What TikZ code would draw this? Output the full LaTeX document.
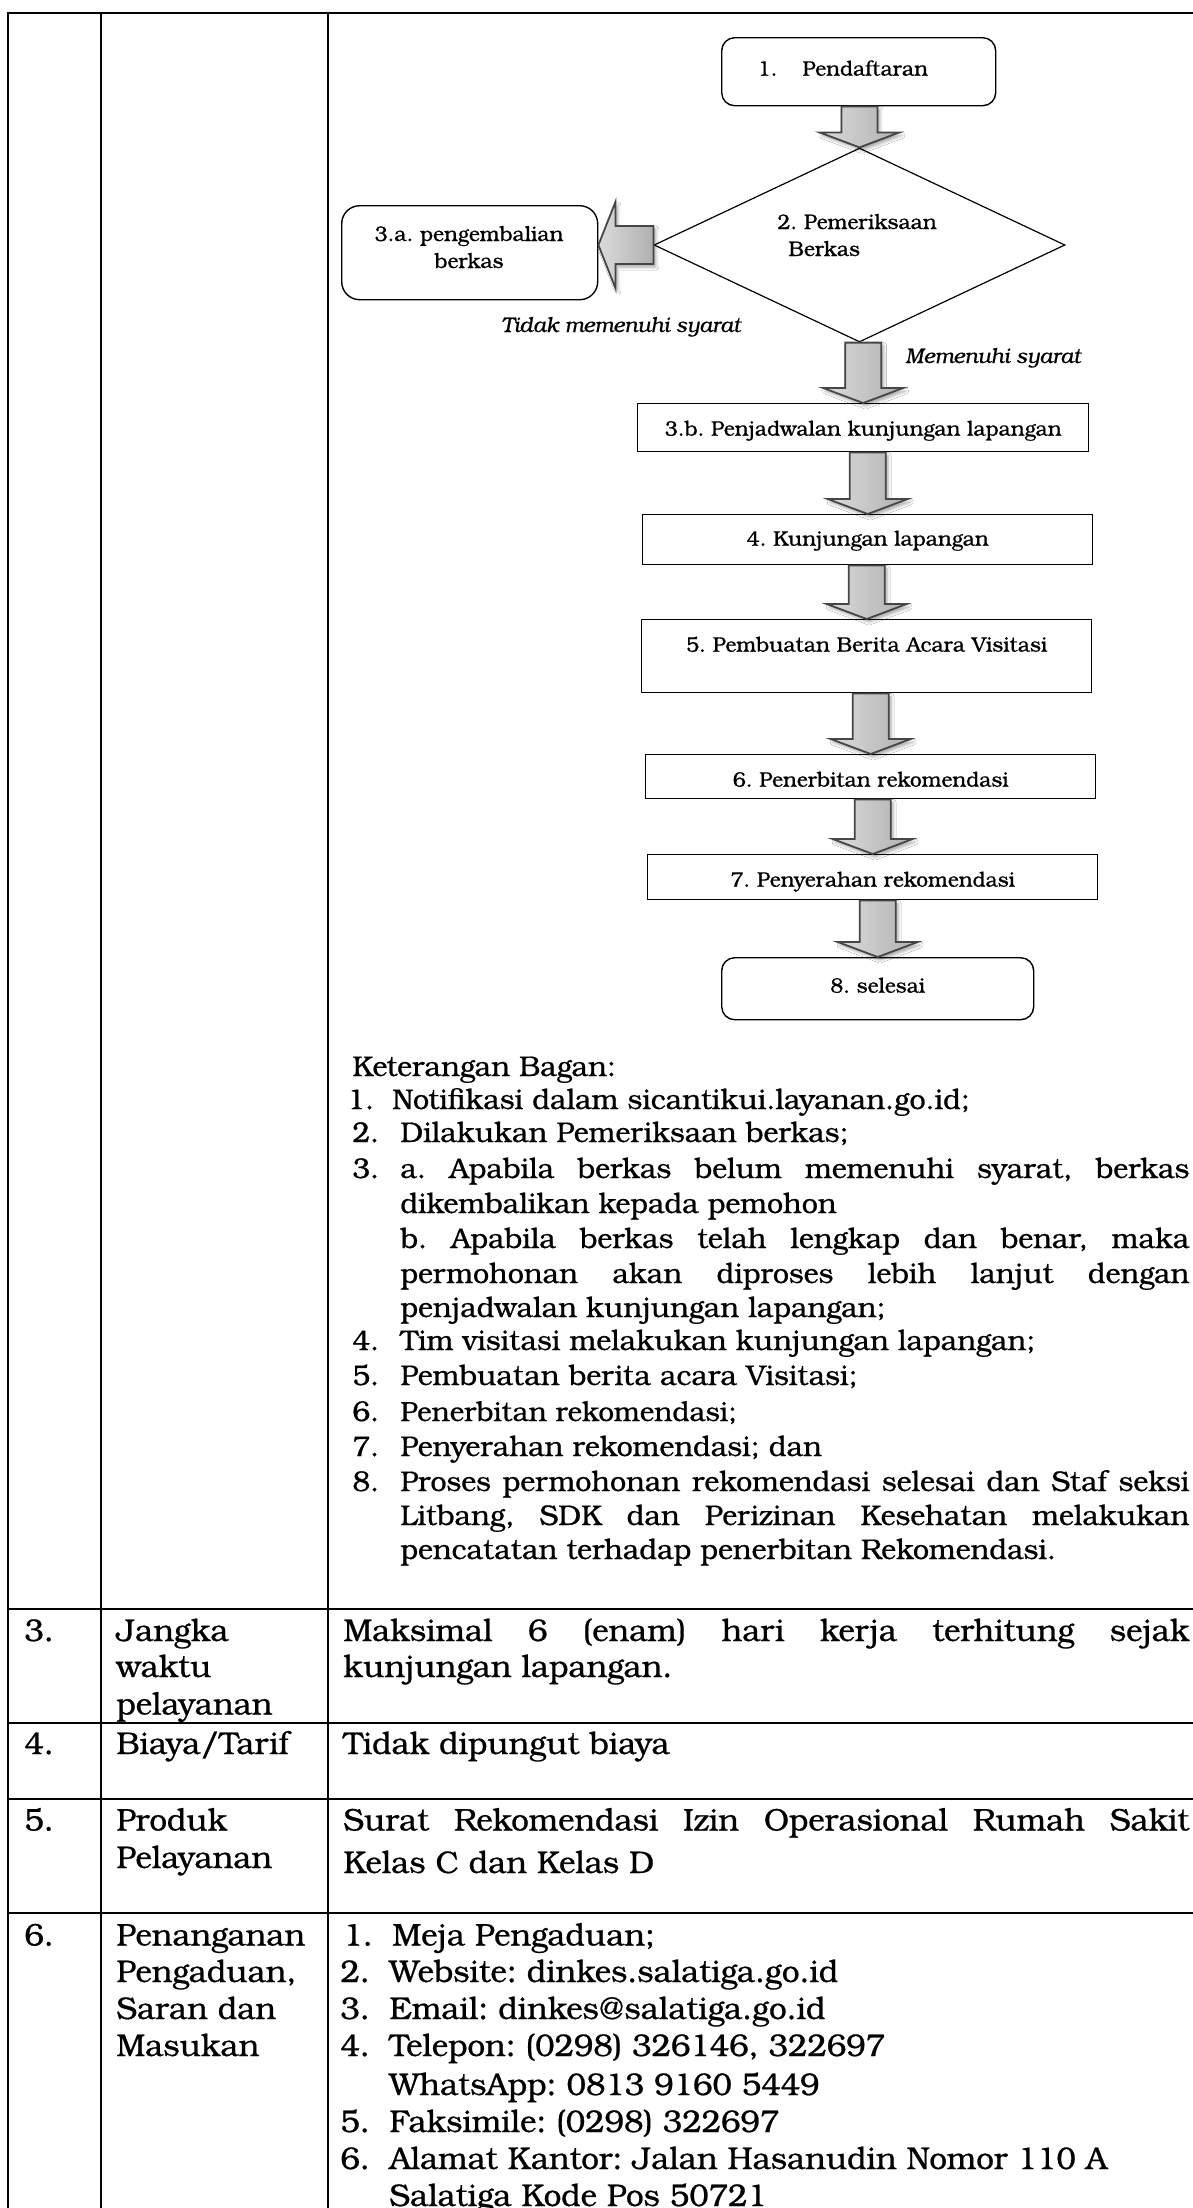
\documentclass[tikz,border=0pt]{standalone}
\usepackage{fontspec}
\setmainfont{TeX Gyre Bonum}[FakeBold=0.7]
\usetikzlibrary{calc,shapes.geometric,shadows.blur}
\newcommand\fontFlow{\fontsize{10.5pt}{13pt}\selectfont}
\newcommand\fontKet{\fontsize{14.25pt}{17pt}\selectfont}
\newcommand\fontTab{\fontsize{15.65pt}{18.5pt}\selectfont}
\newcommand\flowarrow[2]{%
  \path[blockarrow] let \p1=(#1.south), \p2=(#2.north) in
    (\x2-9pt,\y1) -- (\x2-9pt,\y2+7.5pt) -- (\x2-20pt,\y2+7.5pt) -- (\x2,\y2)
    -- (\x2+20pt,\y2+7.5pt) -- (\x2+9pt,\y2+7.5pt) -- (\x2+9pt,\y1) -- cycle;}
\begin{document}
\frenchspacing
\begin{tikzpicture}[x=0.5pt,y=-0.5pt,
  tbl/.style={line width=0.8pt,black},
  rowline/.style={line width=1pt,black},
  fbox/.style={draw,line width=0.7pt,fill=white,inner xsep=0pt,inner ysep=0pt,font=\fontFlow,anchor=north west},
  rbox/.style={fbox,rounded corners=6.5pt},
  ft/.style={font=\fontFlow,inner sep=0pt},
  fti/.style={font=\fontFlow\itshape,inner sep=0pt,anchor=base west},
  kt/.style={font=\fontKet,inner sep=0pt,anchor=base west},
  tt/.style={font=\fontTab,inner sep=0pt,anchor=base west},
  blockarrow/.style={left color=gray!28,right color=gray!62,draw=gray!55!black,line width=0.9pt,line join=miter,
    blur shadow={shadow xshift=1.2pt,shadow yshift=-1.5pt,shadow blur radius=1.5pt,shadow opacity=35}}
]
\useasboundingbox (0,0) rectangle (1193,2208);
\fill[white] (0,0) rectangle (1193,2208);
% table grid
\draw[tbl] (1193,13) -- (8,13) -- (8,2215);
\draw[tbl] (101,13) -- (101,2215);
\draw[tbl] (328,13) -- (328,2215);
\foreach \yy in {1609,1723,1799,1913} \draw[rowline] (8,\yy) -- (1193,\yy);

% flowchart
\node[rbox,minimum width=137pt,text height=19pt,text depth=15pt] (b1) at (721,37)
  {\makebox[137pt][l]{\hspace{18pt}1.\hspace{12.5pt}Pendaftaran}};
\node[draw,diamond,line width=0.6pt,fill=white,inner sep=0pt,minimum width=205.5pt,minimum height=97pt] (d2) at (859.5,245) {};
\node[ft,anchor=base west] (d2a) at (777,229) {2. Pemeriksaan};
\node[ft,anchor=base west] (d2b) at (788,256) {Berkas};
\node[rbox,rounded corners=9pt,minimum width=128pt,minimum height=47pt] (b3a) at (341,205) {};
\node[ft,anchor=base] (t3a1) at (469,241) {3.a. pengembalian};
\node[ft,anchor=base] (t3a2) at (469,268) {berkas};
\node[fti] (ltidak) at (501,332) {Tidak memenuhi syarat};
\node[fti] (lmemen) at (905,363) {Memenuhi syarat};
\node[fbox,minimum width=225.5pt,text height=16pt,text depth=8pt] (b3b) at (637,403) {3.b. Penjadwalan kunjungan lapangan};
\node[fbox,minimum width=225pt,text height=15.5pt,text depth=9.5pt] (b4) at (642,514) {4. Kunjungan lapangan};
\node[fbox,minimum width=225pt,text height=16pt,text depth=20.5pt] (b5) at (641,619) {5. Pembuatan Berita Acara Visitasi};
\node[fbox,minimum width=225pt,text height=16pt,text depth=6pt] (b6) at (645,754) {6. Penerbitan rekomendasi};
\node[fbox,minimum width=225pt,text height=16pt,text depth=6.5pt] (b7) at (647,854) {7. Penyerahan rekomendasi};
\node[rbox,minimum width=156pt,text height=17.5pt,text depth=13.5pt] (b8) at (721,957) {8. selesai};

\flowarrow{b1}{d2}
\flowarrow{d2}{b3b}
\flowarrow{b3b}{b4}
\flowarrow{b4}{b5}
\flowarrow{b5}{b6}
\flowarrow{b6}{b7}
\flowarrow{b7}{b8}
\path[blockarrow] let \p1=(d2.west), \p2=(b3a.east) in
  (\x1,\y1+9.5pt) -- (\x2+8.5pt,\y1+9.5pt) -- (\x2+8.5pt,\y1+21.5pt) -- (\x2,\y1)
  -- (\x2+8.5pt,\y1-21.5pt) -- (\x2+8.5pt,\y1-9.5pt) -- (\x1,\y1-9.5pt) -- cycle;

% Keterangan
\node[kt] (k0) at (352,1076) {Keterangan Bagan:};
\node[kt] (k1n) at (347,1109) {1.};
\node[kt] (k1t) at (392,1109) {Notifikasi dalam sicantikui.layanan.go.id;};
\node[kt] (k2n) at (352,1142) {2.};
\node[kt] (k2t) at (400,1142) {Dilakukan Pemeriksaan berkas;};
\node[kt] (k3n) at (352,1178) {3.};
\node[kt] (k3a) at (400,1178) {\makebox[394.5pt][s]{a. Apabila berkas belum memenuhi syarat, berkas}};
\node[kt] (k3b) at (400,1213) {dikembalikan kepada pemohon};
\node[kt] (k3c) at (400,1248) {\makebox[394.5pt][s]{b. Apabila berkas telah lengkap dan benar, maka}};
\node[kt] (k3d) at (400,1283) {\makebox[394.5pt][s]{permohonan akan diproses lebih lanjut dengan}};
\node[kt] (k3e) at (400,1317) {penjadwalan kunjungan lapangan;};
\node[kt] (k4n) at (352,1350) {4.};
\node[kt] (k4t) at (400,1350) {Tim visitasi melakukan kunjungan lapangan;};
\node[kt] (k5n) at (352,1385) {5.};
\node[kt] (k5t) at (400,1385) {Pembuatan berita acara Visitasi;};
\node[kt] (k6n) at (352,1421) {6.};
\node[kt,font=\fontsize{13.8pt}{16pt}\selectfont] (k6t) at (400,1421) {Penerbitan rekomendasi;};
\node[kt] (k7n) at (352,1456) {7.};
\node[kt] (k7t) at (400,1456) {Penyerahan rekomendasi; dan};
\node[kt] (k8n) at (352,1491) {8.};
\node[kt] (k8a) at (400,1491) {\makebox[394.5pt][s]{Proses permohonan rekomendasi selesai dan Staf seksi}};
\node[kt] (k8b) at (400,1525) {\makebox[394.5pt][s]{Litbang, SDK dan Perizinan Kesehatan melakukan}};
\node[kt] (k8c) at (400,1559) {pencatatan terhadap penerbitan Rekomendasi.};

% row 3
\node[tt] (r3n) at (24,1641) {3.};
\node[tt] (r3a) at (116,1641) {Jangka};
\node[tt] (r3b) at (116,1677) {waktu};
\node[tt] (r3c) at (116,1714.5) {pelayanan};
\node[tt] (r3d) at (343,1641) {\makebox[423pt][s]{Maksimal 6 (enam) hari kerja terhitung sejak}};
\node[tt] (r3e) at (343,1677) {kunjungan lapangan.};
% row 4
\node[tt] (r4n) at (24,1754) {4.};
\node[tt] (r4a) at (116,1754) {Biaya/Tarif};
\node[tt] (r4b) at (343,1754) {Tidak dipungut biaya};
% row 5
\node[tt] (r5n) at (24,1830.5) {5.};
\node[tt] (r5a) at (116,1830.5) {Produk};
\node[tt] (r5b) at (116,1868) {Pelayanan};
\node[tt] (r5c) at (343,1830.5) {\makebox[423pt][s]{Surat Rekomendasi Izin Operasional Rumah Sakit}};
\node[tt] (r5d) at (343,1873) {Kelas C dan Kelas D};
% row 6
\node[tt] (r6n) at (24,1945.5) {6.};
\node[tt] (r6a) at (116,1945.5) {Penanganan};
\node[tt] (r6b) at (116,1982) {Pengaduan,};
\node[tt] (r6c) at (116,2019) {Saran dan};
\node[tt] (r6d) at (116,2056) {Masukan};
\node[tt] (i1n) at (343,1945.5) {1.};
\node[tt] (i1t) at (392,1945.5) {Meja Pengaduan;};
\node[tt] (i2n) at (340,1982) {2.};
\node[tt] (i2t) at (389,1982) {Website: dinkes.salatiga.go.id};
\node[tt] (i3n) at (340,2019) {3.};
\node[tt] (i3t) at (389,2019) {Email: dinkes@salatiga.go.id};
\node[tt] (i4n) at (340,2056) {4.};
\node[tt] (i4t) at (389,2056) {Telepon: (0298) 326146, 322697};
\node[tt] (i4w) at (389,2095) {WhatsApp: 0813 9160 5449};
\node[tt] (i5n) at (340,2132) {5.};
\node[tt] (i5t) at (389,2132) {Faksimile: (0298) 322697};
\node[tt] (i6n) at (340,2169) {6.};
\node[tt] (i6t) at (389,2169) {Alamat Kantor: Jalan Hasanudin Nomor 110 A};
\node[tt] (i6s) at (389,2206) {Salatiga Kode Pos 50721};
\end{tikzpicture}
\end{document}
